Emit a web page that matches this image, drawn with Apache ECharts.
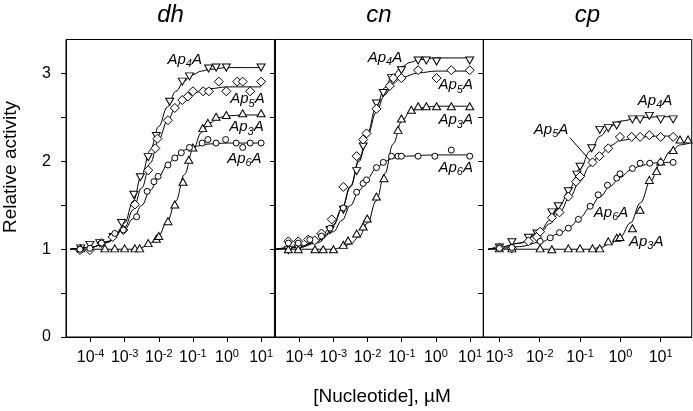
<!DOCTYPE html>
<html><head><meta charset="utf-8">
<script src="https://cdn.jsdelivr.net/npm/echarts@6/dist/echarts.min.js"></script>
<style>html,body{margin:0;padding:0;background:#fff}#c{width:693px;height:411px}</style>
</head><body><div id="c"></div>
<script>
// x values: log10 of [Nucleotide] (µM); y values: relative activity
const panelNames = ['dh', 'cn', 'cp'];
const nucleotides = ['Ap4A', 'Ap5A', 'Ap3A', 'Ap6A'];
const xTicks_dh = [-4, -3, -2, -1, 0, 1];
const xTicks_cn = [-4, -3, -2, -1, 0, 1];
const xTicks_cp = [-3, -2, -1, 0, 1];
const yTicks = [0, 0.5, 1, 1.5, 2, 2.5, 3];
const yLabels = [0, 1, 2, 3];

// ---- dh ----
const dh_Ap4A_pts = [[-4.29,1.01],[-4.02,1.05],[-3.73,1.07],[-3.34,1.14],[-3.09,1.30],[-2.73,1.62],[-2.54,1.82],[-2.31,2.05],[-2.07,2.29],[-1.68,2.68],[-1.31,2.91],[-1.10,2.97],[-0.54,3.06],[-0.32,3.07],[-0.02,3.07],[1.0,3.07]];
const dh_Ap5A_pts = [[-4.31,0.99],[-4.02,0.99],[-3.68,1.07],[-3.35,1.14],[-3.04,1.22],[-2.70,1.51],[-2.31,1.90],[-2.10,2.15],[-2.04,2.26],[-1.73,2.47],[-1.53,2.61],[-1.31,2.70],[-1.15,2.74],[-1.0,2.80],[-0.70,2.80],[-0.53,2.80],[-0.24,2.91],[-0.02,2.80],[0.30,2.91],[0.46,2.91],[0.68,2.80],[1.0,2.91]];
const dh_Ap3A_pts = [[-4.29,1.01],[-3.58,1.01],[-3.29,1.01],[-3.0,1.01],[-2.70,1.01],[-2.56,1.01],[-2.31,1.07],[-2.07,1.12],[-2.0,1.15],[-1.73,1.32],[-1.53,1.51],[-1.29,1.77],[-1.12,2.02],[-1.0,2.16],[-0.71,2.38],[-0.56,2.44],[-0.32,2.51],[-0.02,2.53],[0.46,2.55],[1.0,2.55]];
const dh_Ap6A_pts = [[-4.31,1.0],[-4.02,1.01],[-3.68,1.07],[-3.29,1.18],[-3.04,1.22],[-2.65,1.37],[-2.34,1.66],[-2.14,1.77],[-2.02,1.83],[-1.73,1.96],[-1.53,2.04],[-1.34,2.10],[-1.10,2.16],[-0.73,2.21],[-0.56,2.25],[-0.32,2.21],[-0.04,2.25],[0.27,2.21],[0.46,2.16],[0.68,2.21],[1.0,2.21]];
const dh_Ap4A_fit = [[-4.6,1.0],[-4,1.02],[-3.5,1.08],[-3.25,1.15],[-3.0,1.3],[-2.75,1.55],[-2.5,1.85],[-2.25,2.13],[-2.0,2.4],[-1.75,2.62],[-1.5,2.8],[-1.25,2.92],[-1.0,2.99],[-0.75,3.03],[-0.5,3.05],[0,3.07],[1,3.07]];
const dh_Ap5A_fit = [[-4.6,1.0],[-4,1.02],[-3.5,1.08],[-3.0,1.25],[-2.75,1.45],[-2.5,1.7],[-2.25,1.98],[-2.0,2.25],[-1.75,2.46],[-1.5,2.62],[-1.25,2.72],[-1.0,2.78],[-0.5,2.83],[0,2.85],[1,2.85]];
const dh_Ap3A_fit = [[-4.6,1.0],[-2.75,1.0],[-2.5,1.02],[-2.25,1.07],[-2.0,1.16],[-1.75,1.32],[-1.5,1.55],[-1.25,1.85],[-1.0,2.13],[-0.75,2.33],[-0.5,2.44],[-0.25,2.5],[0,2.52],[0.5,2.53],[1,2.53]];
const dh_Ap6A_fit = [[-4.6,1.0],[-4,1.02],[-3.5,1.09],[-3.0,1.23],[-2.75,1.35],[-2.5,1.5],[-2.25,1.67],[-2.0,1.83],[-1.75,1.96],[-1.5,2.06],[-1.25,2.13],[-1.0,2.17],[-0.5,2.2],[0,2.21],[1,2.21]];

// ---- cn ----
const cn_Ap4A_pts = [[-4.32,0.99],[-4.03,1.01],[-3.35,1.14],[-3.10,1.22],[-2.71,1.45],[-2.32,1.89],[-2.13,2.17],[-1.74,2.66],[-1.54,2.78],[-1.30,2.95],[-1.01,3.04],[-0.52,3.15],[-0.28,3.15],[0.02,3.14],[0.99,3.15]];
const cn_Ap5A_pts = [[-4.32,1.09],[-4.03,1.09],[-3.74,1.11],[-3.55,1.10],[-3.35,1.18],[-3.05,1.34],[-2.71,1.71],[-2.32,2.06],[-2.13,2.25],[-2.03,2.32],[-1.74,2.60],[-1.35,2.86],[-1.25,2.95],[-1.01,2.95],[-0.52,3.04],[0.02,2.95],[0.45,3.04],[0.99,3.04]];
const cn_Ap3A_pts = [[-4.32,1.0],[-4.03,1.0],[-3.54,1.0],[-3.30,1.0],[-3.0,1.0],[-2.71,1.05],[-2.57,1.10],[-2.32,1.18],[-2.13,1.26],[-2.01,1.35],[-1.74,1.60],[-1.52,1.81],[-1.11,2.36],[-1.01,2.49],[-0.72,2.59],[-0.52,2.63],[-0.28,2.63],[0.02,2.63],[0.45,2.63],[0.99,2.63]];
const cn_Ap6A_pts = [[-4.32,1.07],[-4.03,1.07],[-3.69,1.11],[-3.35,1.15],[-3.10,1.24],[-2.71,1.47],[-2.32,1.65],[-2.13,1.75],[-2.03,1.79],[-1.74,1.93],[-1.54,1.99],[-1.30,2.06],[-1.11,2.06],[-1.01,2.06],[-0.52,2.06],[-0.03,2.06],[0.45,2.13],[0.99,2.06]];
const cn_Ap4A_fit = [[-4.7,1.0],[-4,1.02],[-3.5,1.08],[-3.25,1.15],[-3.0,1.28],[-2.75,1.47],[-2.5,1.72],[-2.25,2.02],[-2.0,2.33],[-1.75,2.62],[-1.5,2.84],[-1.25,2.99],[-1.0,3.08],[-0.75,3.13],[-0.5,3.16],[0,3.18],[1,3.18]];
const cn_Ap5A_fit = [[-4.7,1.0],[-4,1.03],[-3.5,1.09],[-3.0,1.27],[-2.75,1.46],[-2.5,1.71],[-2.25,2.0],[-2.0,2.3],[-1.75,2.56],[-1.5,2.76],[-1.25,2.89],[-1.0,2.96],[-0.5,3.01],[0,3.03],[1,3.03]];
const cn_Ap3A_fit = [[-4.7,1.0],[-3.0,1.0],[-2.75,1.02],[-2.5,1.06],[-2.25,1.14],[-2.0,1.3],[-1.75,1.55],[-1.5,1.86],[-1.25,2.2],[-1.0,2.46],[-0.75,2.57],[-0.5,2.61],[0,2.63],[1,2.63]];
const cn_Ap6A_fit = [[-4.7,1.0],[-4,1.02],[-3.5,1.07],[-3.0,1.2],[-2.75,1.33],[-2.5,1.5],[-2.25,1.67],[-2.0,1.81],[-1.75,1.92],[-1.5,2.0],[-1.25,2.04],[-1.0,2.06],[0,2.075],[1,2.075]];

// ---- cp ----
const cp_Ap4A_pts = [[-3.0,1.02],[-2.69,1.08],[-2.28,1.13],[-2.07,1.18],[-1.70,1.42],[-1.54,1.49],[-1.29,1.66],[-1.08,1.85],[-1.0,1.94],[-0.71,2.15],[-0.51,2.36],[-0.30,2.38],[-0.09,2.41],[0.30,2.48],[0.49,2.48],[0.72,2.52],[1.0,2.48],[1.31,2.48]];
const cp_Ap5A_pts = [[-3.0,1.02],[-2.69,1.01],[-2.28,1.09],[-2.07,1.14],[-1.99,1.20],[-1.70,1.36],[-1.51,1.42],[-1.29,1.60],[-1.10,1.77],[-1.0,1.83],[-0.69,1.99],[-0.52,2.06],[-0.30,2.15],[-0.01,2.28],[0.28,2.28],[0.49,2.28],[0.72,2.30],[1.0,2.28],[1.31,2.28]];
const cp_Ap3A_pts = [[-3.0,1.01],[-2.69,1.01],[-1.99,1.01],[-1.70,1.0],[-1.29,1.01],[-1.0,1.01],[-0.69,1.01],[-0.51,1.01],[-0.30,1.09],[-0.09,1.13],[-0.01,1.14],[0.30,1.24],[0.49,1.45],[0.72,1.79],[0.90,1.89],[1.0,2.0],[1.31,2.13],[1.48,2.25],[1.68,2.25]];
const cp_Ap6A_pts = [[-3.0,1.01],[-2.69,1.02],[-1.99,1.09],[-1.74,1.13],[-1.51,1.19],[-1.29,1.24],[-1.04,1.34],[-0.75,1.49],[-0.55,1.62],[-0.32,1.73],[-0.09,1.81],[-0.01,1.86],[0.30,1.92],[0.49,1.98],[0.73,1.98],[1.0,1.99],[1.31,1.99]];
const cp_Ap4A_fit = [[-3.28,1.0],[-3.0,1.02],[-2.5,1.07],[-2.0,1.2],[-1.75,1.33],[-1.5,1.5],[-1.25,1.7],[-1.0,1.92],[-0.75,2.12],[-0.5,2.29],[-0.25,2.4],[0,2.46],[0.5,2.5],[1.0,2.51],[1.31,2.51]];
const cp_Ap5A_fit = [[-3.28,1.0],[-3.0,1.02],[-2.5,1.07],[-2.0,1.18],[-1.75,1.29],[-1.5,1.43],[-1.25,1.6],[-1.0,1.78],[-0.75,1.95],[-0.5,2.08],[-0.25,2.18],[0,2.24],[0.5,2.28],[1.0,2.29],[1.31,2.29]];
const cp_Ap3A_fit = [[-3.28,1.0],[-0.75,1.0],[-0.5,1.02],[-0.25,1.06],[0,1.14],[0.25,1.3],[0.5,1.53],[0.75,1.78],[1.0,1.98],[1.25,2.12],[1.5,2.19],[1.77,2.22]];
const cp_Ap6A_fit = [[-3.28,1.0],[-3.0,1.01],[-2.5,1.03],[-2.0,1.08],[-1.5,1.18],[-1.25,1.26],[-1.0,1.36],[-0.75,1.48],[-0.5,1.6],[-0.25,1.72],[0,1.82],[0.25,1.9],[0.5,1.95],[0.75,1.98],[1.0,1.99],[1.31,1.99]];

// curve-label anchor points (data coordinates) per panel, in nucleotide order
const dh_labels = [[-1.24,3.16],[0.60,2.71],[0.57,2.39],[0.51,2.03]];
const cn_labels = [[-1.49,3.18],[0.58,2.87],[0.58,2.47],[0.58,1.93]];
const cp_labels = [[0.86,2.69],[-1.72,2.36],[0.64,1.09],[-0.23,1.42]];
const cp_leader = [[-1.25,2.27],[-0.75,2.01]];

const FONT = '"Liberation Sans", Arial, sans-serif';
const panelData = {
  dh: {pts: [dh_Ap4A_pts, dh_Ap5A_pts, dh_Ap3A_pts, dh_Ap6A_pts], fit: [dh_Ap4A_fit, dh_Ap5A_fit, dh_Ap3A_fit, dh_Ap6A_fit], labels: dh_labels, ticks: xTicks_dh, range: [-4.72, 1.39]},
  cn: {pts: [cn_Ap4A_pts, cn_Ap5A_pts, cn_Ap3A_pts, cn_Ap6A_pts], fit: [cn_Ap4A_fit, cn_Ap5A_fit, cn_Ap3A_fit, cn_Ap6A_fit], labels: cn_labels, ticks: xTicks_cn, range: [-4.71, 1.39]},
  cp: {pts: [cp_Ap4A_pts, cp_Ap5A_pts, cp_Ap3A_pts, cp_Ap6A_pts], fit: [cp_Ap4A_fit, cp_Ap5A_fit, cp_Ap3A_fit, cp_Ap6A_fit], labels: cp_labels, ticks: xTicks_cp, range: [-3.40, 1.77]}
};
const symbols = {
  Ap4A: {symbol: 'triangle', rotate: 180, size: [8, 7]},
  Ap5A: {symbol: 'diamond', rotate: 0, size: [9, 9]},
  Ap3A: {symbol: 'triangle', rotate: 0, size: [8, 7]},
  Ap6A: {symbol: 'circle', rotate: 0, size: 6}
};
const gridLefts = [66, 275, 483.3];
const gridW = 208.4;

const grids = [], xAxes = [], yAxes = [], series = [];
panelNames.forEach((p, i) => {
  const d = panelData[p];
  grids.push({left: gridLefts[i], top: 39.5, width: gridW, height: 297.5, show: true, borderColor: '#000', borderWidth: 1, backgroundColor: 'transparent'});
  xAxes.push({
    type: 'value', gridIndex: i, min: d.range[0], max: d.range[1],
    axisLine: {show: true, onZero: false, lineStyle: {color: '#000', width: 1}},
    axisTick: {show: true, length: 5, lineStyle: {color: '#000'}, customValues: d.ticks},
    splitLine: {show: false},
    axisLabel: {
      show: true, customValues: d.ticks, margin: 12, color: '#000',
      formatter: v => '{b|10}{p|' + Math.round(v) + '}',
      rich: {
        b: {fontFamily: FONT, fontSize: 16, lineHeight: 18, color: '#000'},
        p: {fontFamily: FONT, fontSize: 11, lineHeight: 11, padding: [0, 0, 9, 0], color: '#000'}
      }
    }
  });
  yAxes.push({
    type: 'value', gridIndex: i, min: 0, max: 3.39,
    axisLine: {show: true, onZero: false, lineStyle: {color: '#000', width: 1}},
    axisTick: {show: true, length: 5, lineStyle: {color: '#000'}, customValues: yTicks},
    splitLine: {show: false},
    axisLabel: {show: i === 0, customValues: yLabels, margin: 15, color: '#000', fontFamily: FONT, fontSize: 16}
  });
  nucleotides.forEach((n, k) => {
    series.push({
      type: 'line', xAxisIndex: i, yAxisIndex: i, data: d.fit[k], smooth: 0.4, smoothMonotone: 'x',
      showSymbol: false, silent: true, z: 2, lineStyle: {color: '#000', width: 1}
    });
  });
  nucleotides.forEach((n, k) => {
    const s = symbols[n];
    series.push({
      type: 'scatter', xAxisIndex: i, yAxisIndex: i, data: d.pts[k], symbol: s.symbol,
      symbolRotate: s.rotate, symbolSize: s.size, z: 3, silent: true,
      itemStyle: {color: '#fff', borderColor: '#000', borderWidth: 1, opacity: 1}
    });
  });
  series.push({
    type: 'scatter', xAxisIndex: i, yAxisIndex: i, symbolSize: 0, z: 4, silent: true,
    itemStyle: {opacity: 1, color: '#000'},
    data: d.labels.map((c, k) => ({value: c, name: nucleotides[k]})),
    label: {
      show: true, position: 'inside', opacity: 1, color: '#000', textBorderWidth: 0, textBorderColor: 'transparent',
      formatter: prm => '{a|Ap}{s|' + prm.name.charAt(2) + '}{a|A}',
      rich: {
        a: {fontFamily: FONT, fontStyle: 'italic', fontSize: 15, lineHeight: 16, color: '#000', textBorderWidth: 0},
        s: {fontFamily: FONT, fontStyle: 'italic', fontSize: 11, lineHeight: 11, padding: [9, 0, 0, 0], color: '#000', textBorderWidth: 0}
      }
    }
  });
  if (p === 'cp') {
    series.push({
      type: 'line', xAxisIndex: i, yAxisIndex: i, data: cp_leader, showSymbol: false, silent: true,
      z: 2, lineStyle: {color: '#000', width: 1}
    });
  }
});

const graphic = [
  {type: 'text', x: 170.5, y: 15, style: {text: 'dh', font: 'italic 24px ' + FONT, fill: '#000', textAlign: 'center', textVerticalAlign: 'middle'}},
  {type: 'text', x: 379, y: 15, style: {text: 'cn', font: 'italic 24px ' + FONT, fill: '#000', textAlign: 'center', textVerticalAlign: 'middle'}},
  {type: 'text', x: 587.5, y: 15, style: {text: 'cp', font: 'italic 24px ' + FONT, fill: '#000', textAlign: 'center', textVerticalAlign: 'middle'}},
  {type: 'text', x: 11, y: 167, rotation: Math.PI / 2, style: {text: 'Relative activity', font: '19px ' + FONT, fill: '#000', textAlign: 'center', textVerticalAlign: 'middle'}},
  {type: 'text', x: 382, y: 397, style: {text: '[Nucleotide], \u00B5M', font: '19px ' + FONT, fill: '#000', textAlign: 'center', textVerticalAlign: 'middle'}}
];

const chart = echarts.init(document.getElementById('c'), null, {renderer: 'canvas'});
chart.setOption({animation: false, backgroundColor: '#fff', grid: grids, xAxis: xAxes, yAxis: yAxes, series: series, graphic: graphic});
</script>
</body></html>
